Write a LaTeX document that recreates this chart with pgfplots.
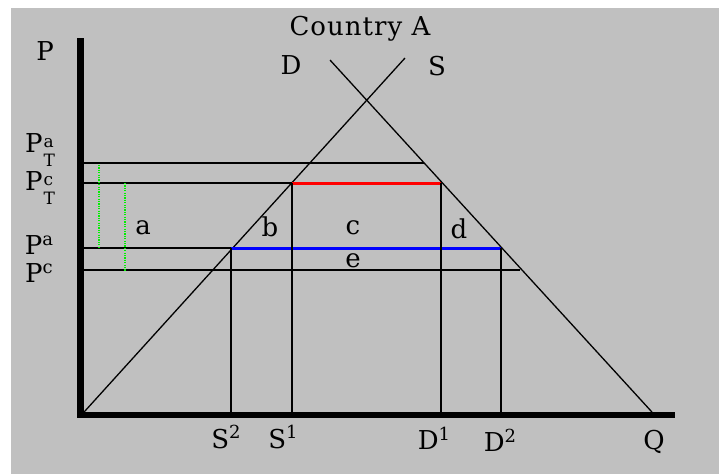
\documentclass[border=0pt]{standalone}
\usepackage{pgfplots}
\pgfplotsset{compat=1.18}
\usepackage{fontspec}
\setmainfont{DejaVu Serif}[LetterSpace=4]
\definecolor{bg}{HTML}{C0C0C0}
\definecolor{lime}{HTML}{00F000}
% P with a stacked superscript and subscript
\newcommand\Pst[2]{P\kern0.5pt\raisebox{-1.05ex}{\fontsize{8.5}{9.5}\selectfont\shortstack[l]{#1\\#2}}}
\newcommand\up[1]{\raisebox{0.7ex}{\fontsize{9}{9}\selectfont #1}}
\tikzset{lab/.style={font=\fontsize{13}{15}\selectfont, inner sep=0pt}}
\begin{document}
\begin{tikzpicture}
\begin{axis}[
    width=359.5pt, height=237pt, scale only axis,
    xmin=0, xmax=719, ymin=0, ymax=474, y dir=reverse,
    hide axis, clip=false,
]
% background
\fill[white] (axis cs:0,0) rectangle (axis cs:719,474);
\fill[bg] (axis cs:11,8) rectangle (axis cs:719,474);
% supply and demand
\addplot[black, line width=0.65pt] coordinates {(84,412) (405,58)};
\addplot[black, line width=0.65pt] coordinates {(330,60) (652,412)};
% price levels
\addplot[black, line width=0.65pt] coordinates {(84,163) (424,163)};
\addplot[black, line width=0.65pt] coordinates {(84,183) (292,183)};
\addplot[black, line width=0.65pt] coordinates {(84,248) (231,248)};
\addplot[black, line width=0.65pt] coordinates {(84,270) (520,270)};
\addplot[red, line width=1.5pt] coordinates {(292,183) (441,183)};
\addplot[blue, line width=1.5pt] coordinates {(231,248) (501,248)};
% quantities
\addplot[black, line width=0.65pt] coordinates {(231,248) (231,413)};
\addplot[black, line width=0.65pt] coordinates {(292,183) (292,413)};
\addplot[black, line width=0.65pt] coordinates {(441,183) (441,413)};
\addplot[black, line width=0.65pt] coordinates {(501,248) (501,413)};
% green dotted markers
\addplot[lime, line width=0.8pt, dash pattern=on 0.6pt off 0.6pt] coordinates {(99,165) (99,247)};
\addplot[lime, line width=0.8pt, dash pattern=on 0.6pt off 0.6pt] coordinates {(125,183) (125,271)};
% axes
\addplot[black, line width=3.2pt] coordinates {(80.5,38) (80.5,418)};
\addplot[black, line width=3pt] coordinates {(77,415) (675,415)};
% labels
\node[lab] at (axis cs:360,29) {Country A};
\node[lab] at (axis cs:45,51) {P};
\node[lab] at (axis cs:291,65) {D};
\node[lab] at (axis cs:437,66) {S};
\node[lab] at (axis cs:40,150) {\Pst{a}{T}};
\node[lab] at (axis cs:40,188) {\Pst{c}{T}};
\node[lab] at (axis cs:39,245) {P\up{a}};
\node[lab] at (axis cs:39,273) {P\up{c}};
\node[lab] at (axis cs:143,228) {a};
\node[lab] at (axis cs:270,227) {b};
\node[lab] at (axis cs:353,228) {c};
\node[lab] at (axis cs:459,229) {d};
\node[lab] at (axis cs:353,261) {e};
\node[lab] at (axis cs:226,437) {S\up{2}};
\node[lab] at (axis cs:283,437) {S\up{1}};
\node[lab] at (axis cs:434,438) {D\up{1}};
\node[lab] at (axis cs:500,440) {D\up{2}};
\node[lab] at (axis cs:654,442) {Q};
\end{axis}
\end{tikzpicture}
\end{document}
